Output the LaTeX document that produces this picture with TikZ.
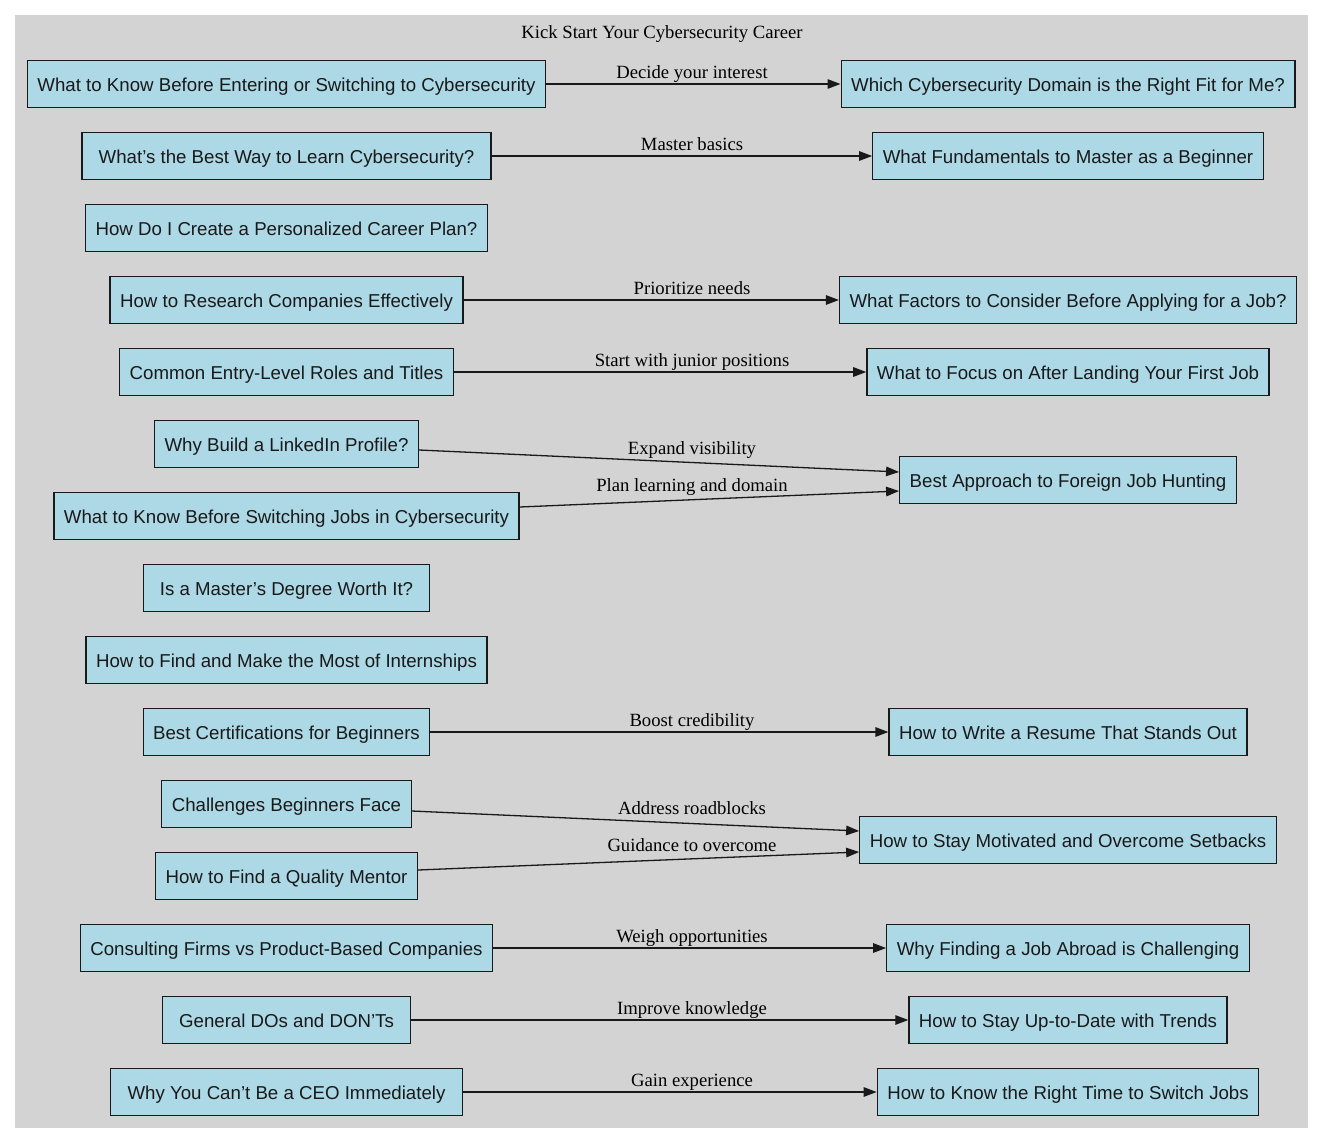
\documentclass[tikz,border=0pt]{standalone}
\usepackage{fontspec}
\usetikzlibrary{arrows.meta}
\newfontfamily\nodefont{Liberation Sans}
\newfontfamily\labfont{Liberation Serif}
\definecolor{bgray}{HTML}{D3D3D3}
\definecolor{lblue}{HTML}{ADD8E6}
\tikzset{
  topic/.style={draw=black!90, fill=lblue, line width=1.3pt, minimum height=47pt,
    inner xsep=10pt, inner ysep=0pt, text height=16pt, text depth=1.2pt,
    font=\nodefont\fontsize{18.67}{22}\selectfont, text=black!90},
  elabel/.style={anchor=base, inner sep=0pt, font=\labfont\fontsize{18.67}{22}\selectfont},
  link/.style={line width=1.3pt, draw=black!90, -{Triangle[length=13pt,width=9.5pt]}}
}
\begin{document}
\begin{tikzpicture}[x=1pt,y=-1pt]
\useasboundingbox (0,0) rectangle (1324,1143);
\fill[bgray] (15,15) rectangle (1308,1128);
\node[elabel] (title) at (662,38) {Kick Start Your Cybersecurity Career};
% left column
\node[topic] (n1) at (286.5,84) {What to Know Before Entering or Switching to Cybersecurity};
\node[topic, minimum width=409pt] (n2) at (286.5,156) {What’s the Best Way to Learn Cybersecurity?};
\node[topic] (n3) at (286.5,228) {How Do I Create a Personalized Career Plan?};
\node[topic] (n4) at (286.5,300) {How to Research Companies Effectively};
\node[topic] (n5) at (286.5,372) {Common Entry-Level Roles and Titles};
\node[topic] (n6) at (286.5,444) {Why Build a LinkedIn Profile?};
\node[topic] (n7) at (286.5,516) {What to Know Before Switching Jobs in Cybersecurity};
\node[topic, minimum width=286pt] (n8) at (286.5,588) {Is a Master’s Degree Worth It?};
\node[topic] (n9) at (286.5,660) {How to Find and Make the Most of Internships};
\node[topic] (n10) at (286.5,732) {Best Certifications for Beginners};
\node[topic] (n11) at (286.5,804) {Challenges Beginners Face};
\node[topic] (n12) at (286.5,876) {How to Find a Quality Mentor};
\node[topic] (n13) at (286.5,948) {Consulting Firms vs Product-Based Companies};
\node[topic, minimum width=248pt] (n14) at (286.5,1020) {General DOs and DON’Ts};
\node[topic, minimum width=352pt] (n15) at (286.5,1092) {Why You Can’t Be a CEO Immediately};
% right column
\node[topic] (r1) at (1068,84) {Which Cybersecurity Domain is the Right Fit for Me?};
\node[topic] (r2) at (1068,156) {What Fundamentals to Master as a Beginner};
\node[topic] (r3) at (1068,300) {What Factors to Consider Before Applying for a Job?};
\node[topic] (r4) at (1068,372) {What to Focus on After Landing Your First Job};
\node[topic] (r5) at (1068,480) {Best Approach to Foreign Job Hunting};
\node[topic] (r6) at (1068,732) {How to Write a Resume That Stands Out};
\node[topic] (r7) at (1068,840) {How to Stay Motivated and Overcome Setbacks};
\node[topic] (r8) at (1068,948) {Why Finding a Job Abroad is Challenging};
\node[topic] (r9) at (1068,1020) {How to Stay Up-to-Date with Trends};
\node[topic] (r10) at (1068,1092) {How to Know the Right Time to Switch Jobs};
% connectors
\draw[link] (n1.east) -- (r1.west);
\draw[link] (n2.east) -- (r2.west);
\draw[link] (n4.east) -- (r3.west);
\draw[link] (n5.east) -- (r4.west);
\draw[link] ([yshift=-6pt]n6.east) -- ([yshift=8pt]r5.west);
\draw[link] ([yshift=9pt]n7.east) -- ([yshift=-11pt]r5.west);
\draw[link] (n10.east) -- (r6.west);
\draw[link] ([yshift=-7pt]n11.east) -- ([yshift=9pt]r7.west);
\draw[link] ([yshift=6pt]n12.east) -- ([yshift=-12pt]r7.west);
\draw[link] (n13.east) -- (r8.west);
\draw[link] (n14.east) -- (r9.west);
\draw[link] (n15.east) -- (r10.west);
% edge labels
\node[elabel] (l1) at (692,78) {Decide your interest};
\node[elabel] (l2) at (692,150) {Master basics};
\node[elabel] (l3) at (692,294) {Prioritize needs};
\node[elabel] (l4) at (692,366) {Start with junior positions};
\node[elabel] (l5) at (692,454) {Expand visibility};
\node[elabel] (l6) at (692,491.5) {Plan learning and domain};
\node[elabel] (l7) at (692,726) {Boost credibility};
\node[elabel] (l8) at (692,814) {Address roadblocks};
\node[elabel] (l9) at (692,851.5) {Guidance to overcome};
\node[elabel] (l10) at (692,942) {Weigh opportunities};
\node[elabel] (l11) at (692,1014) {Improve knowledge};
\node[elabel] (l12) at (692,1086) {Gain experience};
\end{tikzpicture}
\end{document}
